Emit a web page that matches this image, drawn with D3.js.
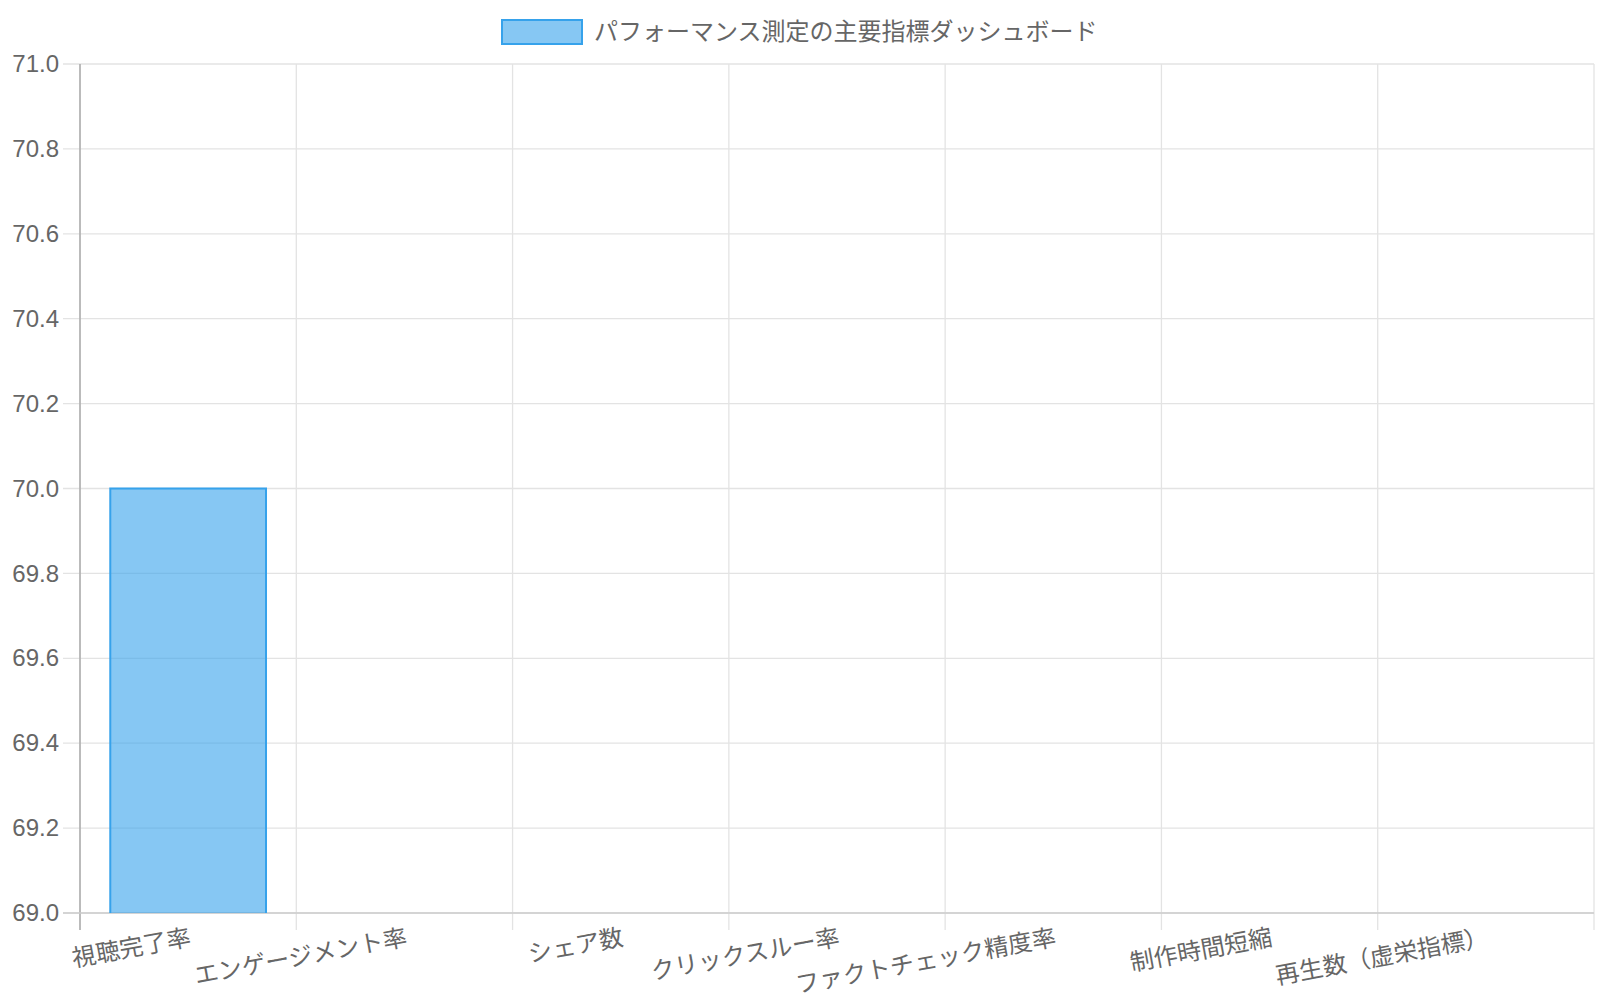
<!DOCTYPE html>
<html>
<head>
<meta charset="utf-8">
<script src="https://cdn.jsdelivr.net/npm/d3@7"></script>
<style>
  body { margin: 0; background: #fff; }
  text { font-family: "Liberation Sans", "Noto Sans CJK JP", sans-serif; fill: #666; }
</style>
</head>
<body>
<div id="chart"></div>
<script>
// chart data
const categories = ["視聴完了率", "エンゲージメント率", "シェア数", "クリックスルー率", "ファクトチェック精度率", "制作時間短縮", "再生数（虚栄指標）"];
const values = [70, null, null, null, null, null, null];
const seriesName = "パフォーマンス測定の主要指標ダッシュボード";
const yTicks = [69.0, 69.2, 69.4, 69.6, 69.8, 70.0, 70.2, 70.4, 70.6, 70.8, 71.0];

const width = 1600;
const height = 1000;
const margin = { top: 64, right: 6, bottom: 87, left: 80 };
const innerW = width - margin.left - margin.right;
const innerH = height - margin.top - margin.bottom;

const svg = d3.select("#chart")
  .append("svg")
  .attr("width", width)
  .attr("height", height);

const g = svg.append("g")
  .attr("transform", `translate(${margin.left}, ${margin.top})`);

// scales
const xScale = d3.scaleBand()
  .domain(categories)
  .range([0, innerW]);

const yScale = d3.scaleLinear()
  .domain([69, 71])
  .range([innerH, 0]);

// vertical grid lines (at band edges)
const edges = categories.map(c => xScale(c)).concat([innerW]);
g.selectAll(".vgrid")
  .data(edges)
  .join("line")
  .attr("class", "vgrid")
  .attr("x1", d => d).attr("x2", d => d)
  .attr("y1", 0).attr("y2", innerH + 17)
  .attr("stroke", "#e3e3e3")
  .attr("stroke-width", 1.3);

// horizontal grid lines
g.selectAll(".hgrid")
  .data(yTicks)
  .join("line")
  .attr("class", "hgrid")
  .attr("x1", -17).attr("x2", innerW)
  .attr("y1", d => yScale(d)).attr("y2", d => yScale(d))
  .attr("stroke", "#e3e3e3")
  .attr("stroke-width", 1.3);

// y axis
const yAxis = g.append("g")
  .call(d3.axisLeft(yScale).tickValues(yTicks).tickFormat(d3.format(".1f")).tickSize(0).tickPadding(21));
yAxis.select(".domain").remove();
yAxis.selectAll("text")
  .style("font-size", "24px")
  .attr("fill", "#666");

// axis lines
g.append("line")
  .attr("x1", 0).attr("x2", 0)
  .attr("y1", 0).attr("y2", innerH + 17)
  .attr("stroke", "#aaa")
  .attr("stroke-width", 1.5);
g.append("line")
  .attr("x1", -17).attr("x2", innerW)
  .attr("y1", innerH).attr("y2", innerH)
  .attr("stroke", "#ccc")
  .attr("stroke-width", 1.5);

// bars (clipped to plot area)
svg.append("defs").append("clipPath")
  .attr("id", "plot-clip")
  .append("rect")
  .attr("width", innerW)
  .attr("height", innerH);

const barW = xScale.bandwidth() * 0.72;
g.append("g")
  .attr("clip-path", "url(#plot-clip)")
  .selectAll(".bar")
  .data(categories.map((c, i) => ({ cat: c, v: values[i] })).filter(d => d.v != null && d.v > 69))
  .join("rect")
  .attr("class", "bar")
  .attr("x", d => xScale(d.cat) + (xScale.bandwidth() - barW) / 2)
  .attr("y", d => yScale(d.v))
  .attr("width", barW)
  .attr("height", d => innerH - yScale(d.v) + 1)
  .attr("fill", "rgba(54, 162, 235, 0.6)")
  .attr("stroke", "rgb(54, 162, 235)")
  .attr("stroke-width", 2);

// x labels, rotated
g.selectAll(".xlabel")
  .data(categories)
  .join("text")
  .attr("class", "xlabel")
  .attr("transform", d => `translate(${xScale(d) + xScale.bandwidth() / 2}, ${innerH + 12}) rotate(-10.5)`)
  .attr("text-anchor", "end")
  .attr("dy", "0.85em")
  .style("font-size", "24px")
  .text(d => d);

// legend
const legend = svg.append("g");
legend.append("rect")
  .attr("x", 502).attr("y", 20)
  .attr("width", 80).attr("height", 24)
  .attr("fill", "rgba(54, 162, 235, 0.6)")
  .attr("stroke", "rgb(54, 162, 235)")
  .attr("stroke-width", 2);
legend.append("text")
  .attr("x", 594).attr("y", 32)
  .attr("dy", "0.35em")
  .style("font-size", "24px")
  .text(seriesName);
</script>
</body>
</html>
